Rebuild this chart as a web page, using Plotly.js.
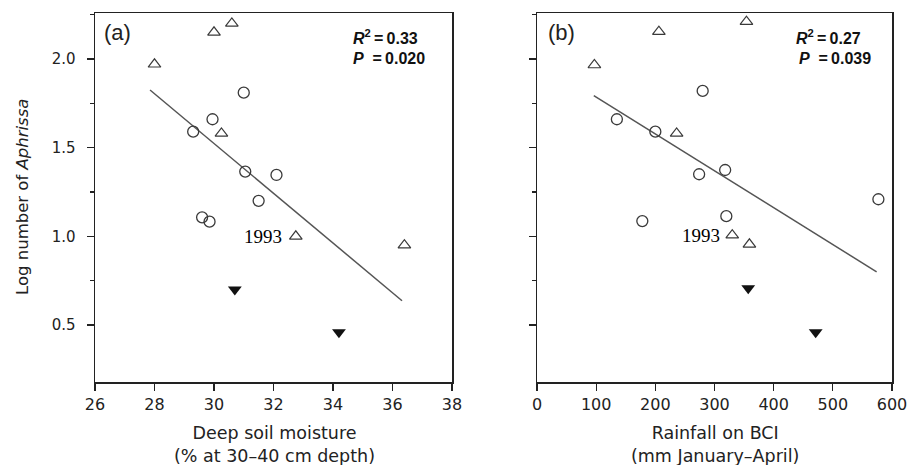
<!DOCTYPE html>
<html>
<head>
<meta charset="utf-8">
<script src="https://cdn.plot.ly/plotly-3.0.1.min.js"></script>
<style>html,body{margin:0;padding:0;background:#fff;}#chart{width:908px;height:465px;}</style>
</head>
<body>
<div id="chart"></div>
<script>
// Panel (a): deep soil moisture
var A_circ_x = [31.0, 29.95, 29.3, 31.05, 32.1, 31.5, 29.6, 29.85];
var A_circ_y = [1.81, 1.66, 1.59, 1.365, 1.346, 1.20, 1.107, 1.083];
var A_tri_x = [28.0, 30.0, 30.6, 30.25, 32.75, 36.4];
var A_tri_y = [1.97, 2.15, 2.20, 1.58, 1.00, 0.95];
var A_fill_x = [30.7, 34.2];
var A_fill_y = [0.70, 0.46];
var A_fit_x = [27.85, 36.32];
var A_fit_y = [1.825, 0.637];

// Panel (b): rainfall on BCI
var B_circ_x = [280, 135, 200, 274, 318, 577, 178, 320];
var B_circ_y = [1.82, 1.66, 1.59, 1.35, 1.374, 1.209, 1.086, 1.114];
var B_tri_x = [97, 206, 354, 236, 330, 359];
var B_tri_y = [1.966, 2.154, 2.21, 1.58, 1.007, 0.955];
var B_fill_x = [357, 471];
var B_fill_y = [0.707, 0.459];
var B_fit_x = [96, 574];
var B_fit_y = [1.793, 0.80];

var xTicksA = [26, 28, 30, 32, 34, 36, 38];
var xTicksB = [0, 100, 200, 300, 400, 500, 600];
var yTicks = [0.5, 1.0, 1.5, 2.0];
var yTickText = ['0.5', '1.0', '1.5', '2.0'];
var yMinor = [0.75, 1.25, 1.75, 2.25];

var statsA = ['0.33', '0.020'];
var statsB = ['0.27', '0.039'];
var yearLabel = '1993';
var yearA = [32.36, 1.0];
var yearB = [312, 1.006];

var ink = '#3a3a3a';
function circ(x, y, xa, ya) {
  return {x: x, y: y, xaxis: xa, yaxis: ya, type: 'scatter', mode: 'markers',
    marker: {symbol: 'circle-open', size: 11, color: ink, line: {width: 1.3, color: ink}}, hoverinfo: 'skip'};
}
function tri(x, y, xa, ya) {
  return {x: x, y: y, xaxis: xa, yaxis: ya, type: 'scatter', mode: 'markers',
    marker: {symbol: 'triangle-up-open', size: 11, color: ink, line: {width: 1.2, color: ink}}, hoverinfo: 'skip'};
}
function fill(x, y, xa, ya) {
  return {x: x, y: y, xaxis: xa, yaxis: ya, type: 'scatter', mode: 'markers',
    marker: {symbol: 'triangle-down', size: 12, color: '#111', line: {width: 0}}, hoverinfo: 'skip'};
}
function fit(x, y, xa, ya) {
  return {x: x, y: y, xaxis: xa, yaxis: ya, type: 'scatter', mode: 'lines',
    line: {color: '#555', width: 1.5}, hoverinfo: 'skip'};
}

var data = [
  fit(A_fit_x, A_fit_y, 'x', 'y'), circ(A_circ_x, A_circ_y, 'x', 'y'), tri(A_tri_x, A_tri_y, 'x', 'y'), fill(A_fill_x, A_fill_y, 'x', 'y'),
  fit(B_fit_x, B_fit_y, 'x2', 'y2'), circ(B_circ_x, B_circ_y, 'x2', 'y2'), tri(B_tri_x, B_tri_y, 'x2', 'y2'), fill(B_fill_x, B_fill_y, 'x2', 'y2')
];

var tickFont = {family: 'DejaVu Sans', size: 16, color: '#222'};
function xax(domain, range, tv, anchor) {
  return {domain: domain, range: range, tickvals: tv, ticktext: tv.map(String), ticks: 'outside', ticklen: 7, tickwidth: 1.3,
    tickcolor: '#222', showline: true, linecolor: '#222', linewidth: 1.5, mirror: true, showgrid: false, zeroline: false,
    tickfont: tickFont, anchor: anchor, fixedrange: true};
}
function yax(anchor, showLabels) {
  return {domain: [83/465, 452/465], anchor: anchor, range: [0.179, 2.259], tickvals: yTicks, ticktext: yTickText,
    ticks: 'outside', ticklen: 7, tickwidth: 1.3, showticklabels: showLabels,
    tickcolor: '#222', showline: true, linecolor: '#222', linewidth: 1.5, mirror: true, showgrid: false, zeroline: false,
    tickfont: {family: 'DejaVu Sans', size: 15, color: '#222'}, ticklabelstandoff: 8, fixedrange: true,
    minor: {tickvals: yMinor, ticks: 'outside', ticklen: 4, tickwidth: 1.2, tickcolor: '#222', showgrid: false}};
}

var statFont = {family: 'Liberation Sans', size: 16, color: '#111', weight: 'bold'};
function stat(px, py, txt) {
  return {xref: 'paper', yref: 'paper', x: px/908, y: (465-py)/465, xanchor: 'left', yanchor: 'middle', align: 'left',
    showarrow: false, text: txt, font: statFont};
}

var layout = {
  width: 908, height: 465, margin: {l: 0, r: 0, t: 0, b: 0}, showlegend: false,
  paper_bgcolor: '#fff', plot_bgcolor: '#fff',
  xaxis: xax([95/908, 452/908], [26, 38], xTicksA, 'y'),
  xaxis2: xax([537/908, 892/908], [0, 600], xTicksB, 'y2'),
  yaxis: yax('x', true),
  yaxis2: yax('x2', false),
  annotations: [
    {xref: 'paper', yref: 'paper', x: 102/908, y: (465-33)/465, xanchor: 'left', yanchor: 'middle', text: '(a)', showarrow: false,
      font: {family: 'Liberation Sans', size: 22, color: '#222'}},
    {xref: 'paper', yref: 'paper', x: 546/908, y: (465-33)/465, xanchor: 'left', yanchor: 'middle', text: '(b)', showarrow: false,
      font: {family: 'Liberation Sans', size: 22, color: '#222'}},
    stat(351, 37, '<i>R</i><sup>2</sup>\u2009=\u2009' + statsA[0]),
    stat(351, 58.5, '<i>P</i>\u00a0\u00a0=\u2009' + statsA[1]),
    stat(794, 37, '<i>R</i><sup>2</sup>\u2009=\u2009' + statsB[0]),
    stat(797, 58.5, '<i>P</i>\u00a0\u00a0=\u2009' + statsB[1]),
    {xref: 'x', yref: 'y', x: yearA[0], y: yearA[1], xanchor: 'right', yanchor: 'middle', text: yearLabel, showarrow: false,
      font: {family: 'Liberation Serif', size: 19, color: '#000'}},
    {xref: 'x2', yref: 'y2', x: yearB[0], y: yearB[1], xanchor: 'right', yanchor: 'middle', text: yearLabel, showarrow: false,
      font: {family: 'Liberation Serif', size: 19, color: '#000'}},
    {xref: 'paper', yref: 'paper', x: 274/908, y: (465-421)/465, xanchor: 'center', yanchor: 'top', showarrow: false,
      text: 'Deep soil moisture<br>(% at 30–40 cm depth)', font: {family: 'DejaVu Sans', size: 17.5, color: '#222'}},
    {xref: 'paper', yref: 'paper', x: 715/908, y: (465-421)/465, xanchor: 'center', yanchor: 'top', showarrow: false,
      text: 'Rainfall on BCI<br>(mm January–April)', font: {family: 'DejaVu Sans', size: 17.5, color: '#222'}},
    {xref: 'paper', yref: 'paper', x: 22/908, y: (465-197)/465, xanchor: 'center', yanchor: 'middle', textangle: -90, showarrow: false,
      text: 'Log number of <i>Aphrissa</i>', font: {family: 'DejaVu Sans', size: 16.5, color: '#222'}}
  ]
};
Plotly.newPlot('chart', data, layout, {staticPlot: true, displayModeBar: false});
</script>
</body>
</html>
